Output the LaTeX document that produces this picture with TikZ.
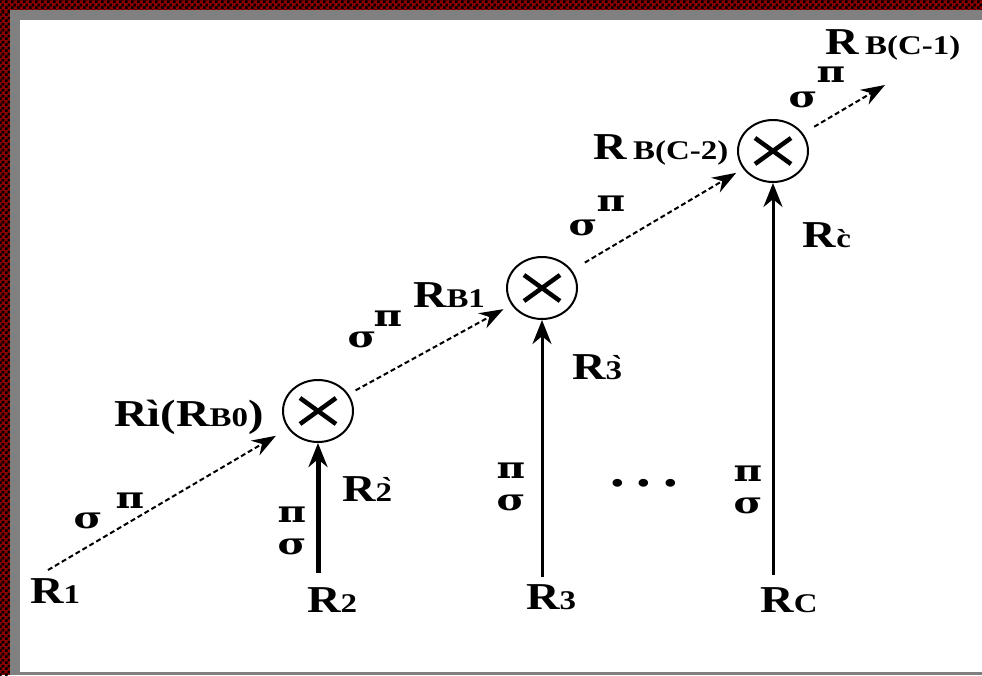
\documentclass[tikz,border=0pt]{standalone}
\usepackage{fontspec}
\setmainfont{Liberation Serif}
\newfontfamily\lblfont{Liberation Serif}[FakeStretch=1.22]
\newfontfamily\grfont{DejaVu Serif}[FakeStretch=1.3]
\usetikzlibrary{arrows.meta,patterns,shapes.geometric}
\definecolor{brd}{HTML}{8B0000}
\definecolor{gry}{HTML}{808080}
\pgfdeclarepatternformonly{chk}{\pgfpointorigin}{\pgfpoint{6pt}{6pt}}{\pgfpoint{6pt}{6pt}}{%
  \pgfpathrectangle{\pgfpointorigin}{\pgfpoint{3pt}{3pt}}%
  \pgfpathrectangle{\pgfpoint{3pt}{3pt}}{\pgfpoint{3pt}{3pt}}%
  \pgfusepath{fill}}
\newcommand\sml[1]{{\fontsize{27}{29}\selectfont #1}}
\tikzset{
  lbl/.style={inner sep=0pt, font=\lblfont\fontsize{38}{40}\selectfont\bfseries},
  gr/.style={inner sep=0pt, font=\grfont\fontsize{30}{32}\selectfont\bfseries},
  mult/.style={ellipse, draw, line width=2pt, minimum width=70pt, minimum height=62pt, inner sep=0pt},
  flow/.style={line width=2pt, dash pattern=on 5pt off 3pt, -{Stealth[length=24pt,width=17pt]}},
  feed/.style={line width=3pt, -{Stealth[length=24pt,width=19pt]}},
  cross/.style={line width=4.5pt},
}
\begin{document}
\begin{tikzpicture}[x=1pt,y=-1pt]
\useasboundingbox (0,0) rectangle (982,675);
% frame
\fill[white] (0,0) rectangle (982,675);
\fill[brd] (0,0) rectangle (982,10);
\fill[brd] (0,0) rectangle (10,675);
\fill[pattern=chk, pattern color=black] (0,0) rectangle (982,10);
\fill[pattern=chk, pattern color=black] (0,10) rectangle (10,675);
\fill[gry] (10,10) rectangle (982,20);
\fill[gry] (10,10) rectangle (20,675);
\fill[gry] (10,672) rectangle (982,675);

% multiplier nodes
\node[mult] (c1) at (318,411) {};
\node[mult] (c2) at (542,288) {};
\node[mult] (c3) at (773,151) {};
\foreach \c in {c1,c2,c3}{
  \draw[cross] ([shift={(-18,-13)}]\c.center) -- ([shift={(18,13)}]\c.center);
  \draw[cross] ([shift={(-18,13)}]\c.center) -- ([shift={(18,-13)}]\c.center);
}

% input labels
\node[lbl] (r1) at (55,591) {R\sml{1}};
\node[lbl] (r2) at (332,600) {R\sml{2}};
\node[lbl] (r3) at (551,597) {R\sml{3}};
\node[lbl] (rc) at (789,600) {R\sml{C}};

% node labels
\node[lbl] (l1) at (189,417) {Rì(R\sml{B0})};
\node[lbl] (l2) at (449,295) {R\sml{B1}};
\node[lbl] (l3) at (661,150) {R\hspace{6pt}\sml{B(C-2)}};
\node[lbl] (l4) at (893,45) {R\hspace{6pt}\sml{B(C-1)}};
\node[lbl] (p2) at (367,489) {R\sml{\`2}};
\node[lbl] (p3) at (597,367) {R\sml{\`3}};
\node[lbl] (pc) at (827,235) {R\sml{\`c}};

% greek labels on diagonal
\node[gr] (s1) at (88,521) {σ};
\node[gr] (q1) at (130,501) {π};
\node[gr] (s2) at (362,340) {σ};
\node[gr] (q2) at (388,319) {π};
\node[gr] (s3) at (583,228) {σ};
\node[gr] (q3) at (611,204) {π};
\node[gr] (s4) at (803,100) {σ};
\node[gr] (q4) at (831,75) {π};
% greek labels on verticals
\node[gr] (vq2) at (292,515) {π};
\node[gr] (vs2) at (292,547) {σ};
\node[gr] (vq3) at (511,471) {π};
\node[gr] (vs3) at (511,503) {σ};
\node[gr] (vqc) at (748,474) {π};
\node[gr] (vsc) at (748,506) {σ};

% dots
\node[lbl, font=\lblfont\fontsize{48}{50}\selectfont\bfseries, anchor=base] (dots) at (644,486) {.\hspace{12pt}.\hspace{12pt}.};

% connector ends
\coordinate (a0) at (48,570);
\coordinate (b2) at (318,573);
\coordinate (b3) at (542,577);
\coordinate (bc) at (773,575);
\coordinate (e) at (885,85);

% connectors
\draw[flow, shorten >=14pt] (a0) -- (c1);
\draw[flow, shorten <=8pt, shorten >=9pt] (c1) -- (c2);
\draw[flow, shorten <=15pt, shorten >=8pt] (c2) -- (c3);
\draw[flow, shorten <=13pt] (c3) -- (e);
\draw[feed, line width=5pt] (b2) -- (c1);
\draw[feed] (b3) -- (c2);
\draw[feed] (bc) -- (c3);
\end{tikzpicture}
\end{document}
